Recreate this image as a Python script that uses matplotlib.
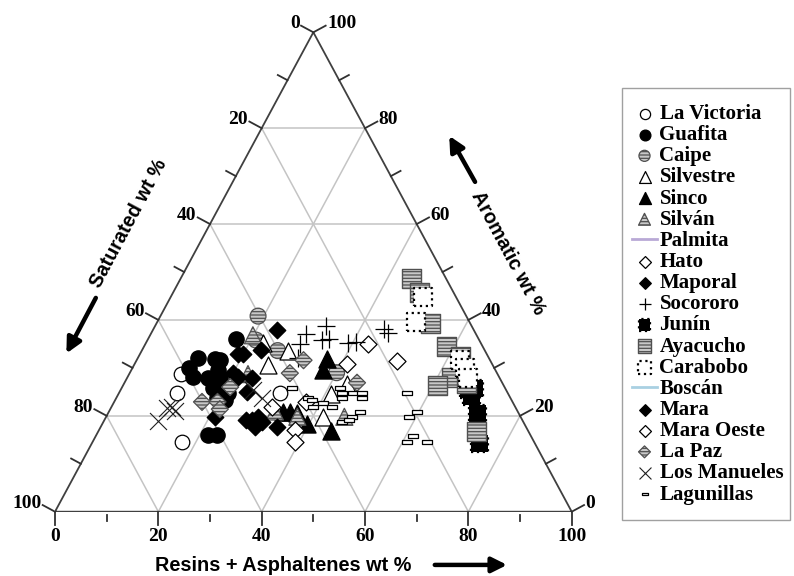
import matplotlib
matplotlib.use("Agg")
import matplotlib.pyplot as plt
import numpy as np
from matplotlib.path import Path
from matplotlib.patches import Rectangle

# Crude oil SARA composition: resins + asphaltenes (ra) and aromatics (ar), wt %.
# Saturates make up the remainder (100 - ra - ar).
la_victoria_ra = [10.0, 11.2, 17.2, 31.1]
la_victoria_ar = [28.7, 24.7, 14.6, 24.7]

guafita_ra = [17.0, 11.7, 15.1, 10.9, 12.8, 16.8, 15.8, 18.0, 17.8, 19.6, 19.5, 21.3, 21.2, 21.7, 23.3, 16.1, 18.4]
guafita_ar = [36.0, 32.0, 31.8, 29.9, 28.0, 29.6, 27.8, 27.8, 25.7, 25.4, 23.7, 23.3, 24.7, 16.0, 16.0, 31.6, 26.4]

caipe_ra = [18.9, 21.0, 26.3, 40.0]
caipe_ar = [40.8, 35.8, 33.6, 29.0]

silvestre_ra = [22.8, 28.4, 26.0, 41.2, 43.2, 42.0]
silvestre_ar = [35.1, 33.5, 30.6, 24.5, 26.6, 19.8]

sinco_ra = [36.8, 37.0, 33.7, 35.0, 36.5, 39.6, 44.9]
sinco_ar = [31.8, 29.6, 20.8, 20.9, 20.6, 18.2, 16.9]

silvan_ra = [19.9, 23.0, 32.1, 37.0, 46.1]
silvan_ar = [36.8, 28.7, 20.9, 19.8, 19.8]

palmita_ra = []
palmita_ar = []

hato_ra = [43.2, 41.1, 50.4]
hato_ar = [34.9, 30.8, 31.5]

maporal_ra = [23.9, 23.0, 18.9, 20.0, 19.9, 21.4, 24.2, 24.7]
maporal_ar = [38.0, 33.7, 32.9, 32.9, 29.0, 28.2, 27.8, 24.9]

socororo_ra = [33.1, 30.1, 29.9, 33.8, 35.0, 39.1, 40.6, 31.1, 44.5, 45.8]
socororo_ar = [38.8, 37.0, 35.0, 35.9, 36.0, 35.1, 35.3, 32.0, 38.2, 37.2]

junin_ra = [65.6, 67.3, 68.6, 71.5, 75.1, 68.4]
junin_ar = [28.2, 25.4, 24.0, 20.5, 14.3, 25.7]

ayacucho_ra = [44.7, 47.6, 53.0, 58.6, 62.3, 62.8, 60.8, 66.3, 73.3]
ayacucho_ar = [48.7, 45.8, 39.3, 34.4, 32.3, 28.0, 26.4, 26.8, 16.7]

carabobo_ra = [48.9, 50.1, 62.6, 64.4, 66.1]
carabobo_ar = [44.8, 39.6, 31.6, 30.0, 27.8]

boscan_ra = []
boscan_ar = []

mara_ra = [21.1, 27.4, 28.6, 29.4, 29.9, 30.7, 34.1]
mara_ar = [19.8, 19.1, 19.1, 19.8, 17.7, 18.8, 17.7]

mara_oeste_ra = [31.0, 37.2, 37.9, 39.1]
mara_oeste_ar = [21.9, 22.8, 17.0, 14.6]

la_paz_ra = [32.3, 31.0, 20.9, 17.0, 20.0, 21.2, 45.0]
la_paz_ar = [31.6, 28.9, 26.0, 22.9, 22.9, 21.4, 26.9]

los_manueles_ra = [10.5, 10.8, 11.7, 12.7, 25.7, 28.3]
los_manueles_ar = [18.9, 21.6, 21.9, 21.0, 25.4, 23.7]

lagunillas_ra = [32.9, 37.1, 38.1, 39.0, 40.5, 42.7, 42.4, 43.2, 43.7, 45.4, 47.0,
                 47.6, 48.7, 47.5, 46.1, 47.3, 55.8, 58.7, 59.7, 61.4, 60.8, 64.6]
lagunillas_ar = [25.8, 23.7, 23.2, 21.9, 22.6, 21.8, 25.7, 24.7, 23.7, 24.7, 24.8,
                 23.7, 20.7, 19.8, 18.8, 19.1, 24.7, 19.8, 20.9, 15.8, 14.6, 14.6]

ticks = [0, 20, 40, 60, 80, 100]
minor_ticks = [10, 30, 50, 70, 90]

plt.rcParams['hatch.color'] = '#505050'
plt.rcParams['hatch.linewidth'] = 0.9

NUM_FONT = dict(family='Liberation Serif', weight='bold', size=14)
LEGEND_FONT = dict(family='Liberation Serif', weight='bold', size=15)
TITLE_FONT = dict(family='Liberation Sans', weight='bold', size=14.3)


def to_xy(ra, ar):
    ra = np.asarray(ra, dtype=float)
    ar = np.asarray(ar, dtype=float)
    return ra + ar / 2.0, ar


W, H = 794, 576
fig = plt.figure(figsize=(W / 100, H / 100), dpi=100)
left_px, right_px, top_px, bot_px = 55.0, 571.7, 32.3, 511.7
ax = fig.add_axes([left_px / W, 1 - bot_px / H, (right_px - left_px) / W, (bot_px - top_px) / H])
ax.set_xlim(0, 100)
ax.set_ylim(0, 100)
ax.axis('off')
sx = (right_px - left_px) / 100.0
sy = (bot_px - top_px) / 100.0


def shift(x, y, dx_px, dy_px):
    return x + dx_px / sx, y + dy_px / sy


# grid lines
grid_kw = dict(color='#c4c4c4', lw=1.1, zorder=1)
for v in [20, 40, 60, 80]:
    # constant aromatics
    ax.plot([v / 2, 100 - v / 2], [v, v], **grid_kw)
    # constant resins + asphaltenes
    ax.plot([v, v + (100 - v) / 2], [0, 100 - v], **grid_kw)
    # constant saturates
    ax.plot([100 - v, (100 - v) / 2], [0, 100 - v], **grid_kw)

# triangle frame
ax.plot([0, 100, 50, 0], [0, 0, 100, 0], color='#404040', lw=1.3, zorder=2,
        solid_joinstyle='miter')

# outward normals of the left and right edges in pixel space
edge_l = np.array([50 * sx, 100 * sy])
n_left = np.array([-edge_l[1], edge_l[0]]) / np.hypot(*edge_l)
n_right = np.array([-n_left[0], n_left[1]])

tick_kw = dict(color='#303030', lw=1.3, zorder=2, clip_on=False)
for t in ticks:
    # bottom axis
    x, y = t, 0
    ax.plot([x, x], [y, shift(x, y, 0, -13)[1]], **tick_kw)
    ax.text(x, shift(x, y, 0, -16)[1], str(t), ha='center', va='top', **NUM_FONT)
    # left edge: saturates
    x, y = (100 - t) / 2, 100 - t
    ex, ey = shift(x, y, *(n_left * 14))
    ax.plot([x, ex], [y, ey], **tick_kw)
    lx, ly = shift(x, y, *(n_left * 15.5))
    ax.text(lx, ly + 1.2 / sy, str(t), ha='right', va='center', **NUM_FONT)
    # right edge: aromatics
    x, y = 100 - t / 2, t
    ex, ey = shift(x, y, *(n_right * 14))
    ax.plot([x, ex], [y, ey], **tick_kw)
    lx, ly = shift(x, y, *(n_right * 15.5))
    ax.text(lx, ly + 1.2 / sy, str(t), ha='left', va='center', **NUM_FONT)

for t in minor_ticks:
    x, y = t, 0
    ax.plot([x, x], [shift(x, y, 0, -3)[1], shift(x, y, 0, -9)[1]], **tick_kw)
    x, y = (100 - t) / 2, 100 - t
    ex, ey = shift(x, y, *(n_left * 11))
    ax.plot([x, ex], [y, ey], **tick_kw)
    x, y = 100 - t / 2, t
    ex, ey = shift(x, y, *(n_right * 11))
    ax.plot([x, ex], [y, ey], **tick_kw)

# axis titles with direction arrows
arrow_kw = dict(arrowstyle='-|>,head_length=0.9,head_width=0.45', color='black', lw=3.2,
                shrinkA=0, shrinkB=0)
ax.text(44.1, -11.3, 'Resins + Asphaltenes wt %', ha='center', va='center', **TITLE_FONT)
ax.annotate('', xy=(87.5, -11.1), xytext=(73.5, -11.1), arrowprops=arrow_kw,
            annotation_clip=False)

ax.text(14.2, 60.2, 'Saturated wt %', ha='center', va='center', rotation=62,
        rotation_mode='anchor', **TITLE_FONT)
ax.annotate('', xy=(2.2, 33.0), xytext=(7.9, 44.6), arrowprops=arrow_kw,
            annotation_clip=False)

ax.text(87.6, 54.0, 'Aromatic wt %', ha='center', va='center', rotation=-62,
        rotation_mode='anchor', **TITLE_FONT)
ax.annotate('', xy=(76.3, 78.4), xytext=(81.3, 68.8), arrowprops=arrow_kw,
            annotation_clip=False)

# data series
GRAY = '#c8c8c8'
DARK = '#505050'
STRIPES = '-----'
lagunillas_marker = Path([(-1, -0.42), (1, -0.42), (1, 0.42), (-1, 0.42), (-1, -0.42)],
                         [Path.MOVETO, Path.LINETO, Path.LINETO, Path.LINETO, Path.CLOSEPOLY])

series = [
    ('La Victoria', la_victoria_ra, la_victoria_ar, dict(marker='o', s=110, facecolors='white', edgecolors='black', linewidths=0.9)),
    ('Guafita', guafita_ra, guafita_ar, dict(marker='o', s=120, facecolors='black', edgecolors='black')),
    ('Caipe', caipe_ra, caipe_ar, dict(marker='o', s=130, facecolors=GRAY, edgecolors=DARK, hatch=STRIPES, linewidths=0.9)),
    ('Silvestre', silvestre_ra, silvestre_ar, dict(marker='^', s=150, facecolors='white', edgecolors='black', linewidths=0.9)),
    ('Sinco', sinco_ra, sinco_ar, dict(marker='^', s=150, facecolors='black', edgecolors='black')),
    ('Silván', silvan_ra, silvan_ar, dict(marker='^', s=150, facecolors=GRAY, edgecolors=DARK, hatch=STRIPES, linewidths=0.9)),
    ('Palmita', palmita_ra, palmita_ar, dict(line=True, color='#b9a9d6')),
    ('Hato', hato_ra, hato_ar, dict(marker='D', s=75, facecolors='white', edgecolors='black', linewidths=0.9)),
    ('Maporal', maporal_ra, maporal_ar, dict(marker='D', s=70, facecolors='black', edgecolors='black')),
    ('Socororo', socororo_ra, socororo_ar, dict(marker='+', s=170, color='black', linewidths=0.9)),
    ('Junín', junin_ra, junin_ar, dict(marker='s', s=150, facecolors='black', edgecolors='black', linestyles=':', linewidths=1.6)),
    ('Ayacucho', ayacucho_ra, ayacucho_ar, dict(marker='s', s=190, facecolors=GRAY, edgecolors=DARK, hatch=STRIPES, linewidths=1.0)),
    ('Carabobo', carabobo_ra, carabobo_ar, dict(marker='s', s=170, facecolors='white', edgecolors='black', linestyles=':', linewidths=1.6)),
    ('Boscán', boscan_ra, boscan_ar, dict(line=True, color='#a9d0e2')),
    ('Mara', mara_ra, mara_ar, dict(marker='D', s=70, facecolors='black', edgecolors='black')),
    ('Mara Oeste', mara_oeste_ra, mara_oeste_ar, dict(marker='D', s=75, facecolors='white', edgecolors='black', linewidths=0.9)),
    ('La Paz', la_paz_ra, la_paz_ar, dict(marker='D', s=75, facecolors=GRAY, edgecolors=DARK, hatch=STRIPES, linewidths=0.9)),
    ('Los Manueles', los_manueles_ra, los_manueles_ar, dict(marker='x', s=150, color='#202020', linewidths=0.8)),
    ('Lagunillas', lagunillas_ra, lagunillas_ar, dict(marker=lagunillas_marker, s=45, facecolors='white', edgecolors='black', linewidths=0.9)),
]

handles = []
for i, (name, ra, ar, style) in enumerate(series):
    x, y = to_xy(ra, ar)
    style = dict(style)
    if style.pop('line', False):
        h, = ax.plot(x, y, color=style['color'], lw=2, label=name)
    else:
        h = ax.scatter(x, y, label=name, zorder=3 + i * 0.01, clip_on=False, **style)
    handles.append(h)

# legend box (drawn beneath the axes) and entries
fig.patches.append(Rectangle((622 / W, 1 - 520 / H), 168 / W, 432 / H, transform=fig.transFigure,
                             facecolor='white', edgecolor='#a0a0a0', lw=1.0, zorder=-1))
leg = ax.legend(handles=handles, loc='upper left', bbox_to_anchor=(632 / W, 1 - 104 / H),
                bbox_transform=fig.transFigure, prop=LEGEND_FONT, frameon=False,
                borderaxespad=0, borderpad=0, handlelength=1.2,
                handletextpad=0.12, labelspacing=0.055, markerscale=0.7, scatterpoints=1)

fig.savefig('out.png', dpi=100, facecolor='white')
